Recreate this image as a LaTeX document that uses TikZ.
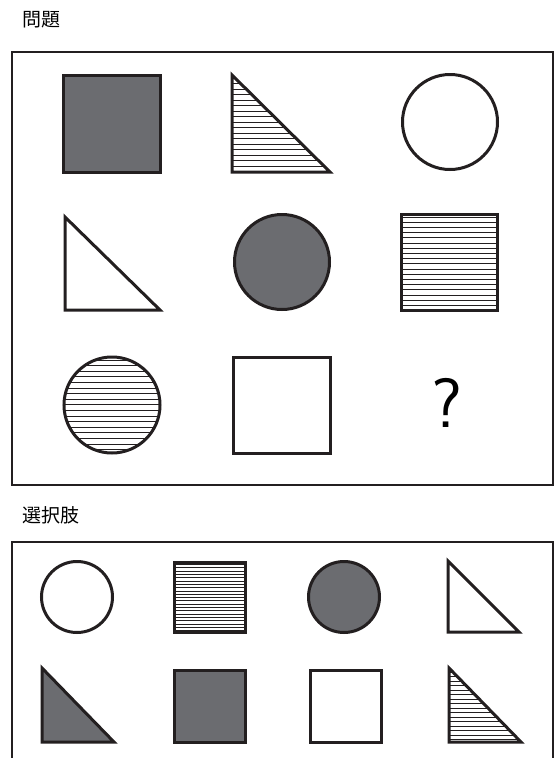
\documentclass[tikz,border=0pt]{standalone}
\usepackage{fontspec}
\newfontfamily\cjk{Noto Sans CJK JP}
\definecolor{ink}{HTML}{231F20}
\definecolor{fillgray}{HTML}{6B6C70}
\newcommand\hatchin[2]{\begin{scope}\clip #1;\foreach \yy in {#2} \draw[hline] (0,\yy) -- (558,\yy);\end{scope}}
\begin{document}
\begin{tikzpicture}[x=1pt,y=-1pt,
  frame/.style={draw=ink,line width=2.6pt},
  shp/.style={draw=ink,line width=3pt,line join=miter},
  dark/.style={shp,fill=fillgray},
  hline/.style={draw=ink,line width=0.7pt},
  lbl/.style={font=\cjk\fontsize{19}{19}\selectfont,anchor=west,inner sep=0pt}]
\useasboundingbox (0,0) rectangle (558,758);
% labels
\node[lbl] (q) at (22,20) {問題};
\node[lbl] (c) at (22,515) {選択肢};
% top frame
\draw[frame] (12,52) rectangle (553,485);
% row 1
\draw[dark] (63,75) rectangle (160,172);
\hatchin{(232,75) -- (232,172) -- (330,172) -- cycle}{78,83.5,...,172}
\draw[shp] (232,75) -- (232,172) -- (330,172) -- cycle;
\draw[shp] (450,122) circle (47.5);
% row 2
\draw[shp] (65,217) -- (65,310) -- (160,310) -- cycle;
\draw[dark] (282,262) circle (47.5);
\hatchin{(401,214) rectangle (497,310)}{217,222.2,...,310}
\draw[shp] (401,214) rectangle (497,310);
% row 3
\hatchin{(112,405) circle (48)}{360,365.6,...,455}
\draw[shp] (112,405) circle (48);
\draw[shp] (233,357) rectangle (330,453);
\node[font=\sffamily\fontsize{70}{70}\selectfont,anchor=base,inner sep=0pt] (qm) at (447,427) {?};
% bottom frame
\draw[frame] (12,770) -- (12,542) -- (553,542) -- (553,770);
% options row 1
\draw[shp] (77,597) circle (35.5);
\hatchin{(174,562) rectangle (245,632)}{564.5,567.8,...,632}
\draw[shp] (174,562) rectangle (245,632);
\draw[dark] (344,597) circle (35.5);
\draw[shp] (448,561) -- (448,632) -- (519,632) -- cycle;
% options row 2
\draw[dark] (42,668) -- (42,742) -- (114,742) -- cycle;
\draw[dark] (174,670) rectangle (245,742);
\draw[shp] (310,670) rectangle (381,742);
\hatchin{(449,668) -- (449,742) -- (521,742) -- cycle}{672,676.5,...,742}
\draw[shp] (449,668) -- (449,742) -- (521,742) -- cycle;
\end{tikzpicture}
\end{document}
